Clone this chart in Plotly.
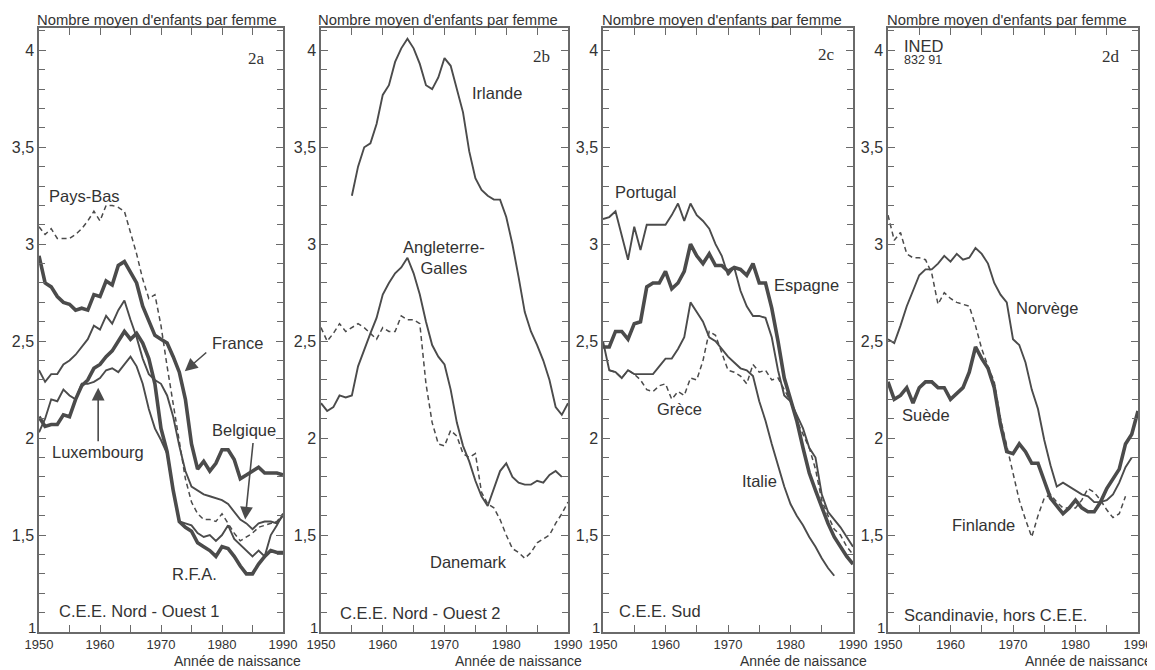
import plotly.graph_objects as go

# ---------------- data ----------------
years_50_90 = list(range(1950, 1991))

# Panel 2a : C.E.E. Nord - Ouest 1
pays_bas = [3.09, 3.05, 3.08, 3.03, 3.03, 3.03, 3.05, 3.08, 3.12, 3.17,
            3.12, 3.20, 3.20, 3.19, 3.17, 3.06, 2.95, 2.82, 2.72, 2.74,
            2.58, 2.37, 2.17, 1.97, 1.79, 1.67, 1.61, 1.58, 1.58, 1.57,
            1.61, 1.56, 1.51, 1.47, 1.49, 1.51, 1.54, 1.55, 1.56, 1.57, 1.61]
france = [2.94, 2.80, 2.78, 2.73, 2.70, 2.69, 2.66, 2.67, 2.66, 2.74,
          2.73, 2.81, 2.79, 2.89, 2.91, 2.85, 2.80, 2.68, 2.60, 2.53,
          2.51, 2.49, 2.42, 2.34, 2.20, 1.97, 1.84, 1.88, 1.83, 1.87,
          1.94, 1.94, 1.89, 1.79, 1.81, 1.83, 1.85, 1.82, 1.82, 1.82, 1.81]
belgique = [2.35, 2.29, 2.33, 2.33, 2.38, 2.40, 2.43, 2.47, 2.51, 2.58,
            2.56, 2.63, 2.59, 2.66, 2.71, 2.61, 2.52, 2.41, 2.33, 2.30,
            2.28, 2.22, 2.11, 1.96, 1.83, 1.75, 1.73, 1.71, 1.70, 1.69,
            1.68, 1.66, 1.62, 1.58, 1.56, 1.53, 1.56, 1.57, 1.57, 1.56, 1.60]
luxembourg = [2.03, 2.10, 2.20, 2.19, 2.25, 2.22, 2.20, 2.28, 2.28, 2.29,
              2.31, 2.35, 2.36, 2.34, 2.38, 2.42, 2.37, 2.28, 2.15, 2.05,
              1.99, 1.92, 1.73, 1.57, 1.56, 1.55, 1.51, 1.49, 1.50, 1.47,
              1.50, 1.55, 1.48, 1.45, 1.42, 1.39, 1.42, 1.39, 1.50, 1.55, 1.61]
rfa = [2.11, 2.06, 2.07, 2.07, 2.12, 2.11, 2.20, 2.27, 2.30, 2.36,
       2.38, 2.42, 2.45, 2.50, 2.55, 2.51, 2.54, 2.49, 2.41, 2.28,
       2.05, 1.93, 1.73, 1.57, 1.54, 1.52, 1.46, 1.44, 1.42, 1.39,
       1.44, 1.43, 1.39, 1.34, 1.30, 1.30, 1.35, 1.39, 1.42, 1.41, 1.41]

# Panel 2b : C.E.E. Nord - Ouest 2
years_irl = list(range(1955, 1991))
irlande = [3.25, 3.40, 3.50, 3.52, 3.62, 3.77, 3.82, 3.94, 4.01, 4.06,
           4.01, 3.93, 3.82, 3.80, 3.86, 3.96, 3.92, 3.80, 3.68, 3.48,
           3.34, 3.28, 3.25, 3.23, 3.23, 3.14, 3.00, 2.83, 2.65, 2.55,
           2.48, 2.40, 2.30, 2.16, 2.12, 2.18]
years_ang = list(range(1950, 1990))
angleterre = [2.18, 2.14, 2.16, 2.22, 2.21, 2.22, 2.37, 2.46, 2.54, 2.62,
              2.74, 2.80, 2.85, 2.88, 2.93, 2.85, 2.74, 2.60, 2.48, 2.42,
              2.38, 2.25, 2.08, 1.96, 1.88, 1.78, 1.70, 1.65, 1.74, 1.83,
              1.87, 1.80, 1.77, 1.76, 1.76, 1.78, 1.77, 1.81, 1.83, 1.80]
danemark = [2.57, 2.50, 2.54, 2.59, 2.55, 2.57, 2.59, 2.57, 2.54, 2.51,
            2.57, 2.55, 2.55, 2.63, 2.61, 2.61, 2.59, 2.28, 2.08, 1.97,
            1.96, 2.04, 2.01, 1.92, 1.90, 1.92, 1.72, 1.66, 1.64, 1.58,
            1.50, 1.43, 1.41, 1.38, 1.41, 1.46, 1.48, 1.50, 1.56, 1.61, 1.67]

# Panel 2c : C.E.E. Sud
portugal = [3.13, 3.14, 3.17, 3.05, 2.92, 3.09, 2.97, 3.10, 3.10, 3.10,
            3.10, 3.15, 3.21, 3.12, 3.21, 3.15, 3.12, 3.08, 3.00, 2.94,
            2.84, 2.88, 2.76, 2.68, 2.63, 2.63, 2.62, 2.52, 2.35, 2.22,
            2.19, 2.12, 2.05, 1.95, 1.90, 1.71, 1.62, 1.58, 1.54, 1.49, 1.44]
espagne = [2.47, 2.47, 2.55, 2.55, 2.51, 2.59, 2.60, 2.78, 2.80, 2.80,
           2.86, 2.77, 2.80, 2.86, 3.00, 2.94, 2.90, 2.95, 2.89, 2.89,
           2.86, 2.88, 2.87, 2.84, 2.90, 2.80, 2.80, 2.67, 2.50, 2.31,
           2.20, 2.09, 1.95, 1.82, 1.73, 1.64, 1.56, 1.49, 1.44, 1.39, 1.35]
years_gre = list(range(1951, 1991))
grece = [2.35, 2.34, 2.31, 2.35, 2.33, 2.30, 2.25, 2.24, 2.27, 2.28,
         2.20, 2.24, 2.22, 2.31, 2.30, 2.40, 2.55, 2.53, 2.44, 2.35,
         2.34, 2.32, 2.28, 2.38, 2.34, 2.35, 2.30, 2.31, 2.25, 2.19,
         2.09, 2.02, 1.95, 1.84, 1.68, 1.60, 1.53, 1.50, 1.44, 1.40]
years_ita = list(range(1950, 1988))
italie = [2.50, 2.35, 2.34, 2.31, 2.35, 2.33, 2.33, 2.33, 2.33, 2.37,
          2.41, 2.41, 2.46, 2.52, 2.70, 2.65, 2.60, 2.52, 2.50, 2.46,
          2.42, 2.39, 2.36, 2.35, 2.32, 2.19, 2.09, 1.97, 1.86, 1.75,
          1.66, 1.60, 1.55, 1.49, 1.44, 1.38, 1.33, 1.29]

# Panel 2d : Scandinavie, hors C.E.E.
years_fin = list(range(1950, 1989))
finlande = [3.15, 3.02, 3.06, 2.95, 2.93, 2.93, 2.92, 2.85, 2.69, 2.75,
            2.72, 2.70, 2.69, 2.68, 2.58, 2.46, 2.37, 2.29, 2.10, 1.96,
            1.82, 1.68, 1.58, 1.49, 1.60, 1.69, 1.71, 1.67, 1.64, 1.64,
            1.64, 1.68, 1.74, 1.72, 1.68, 1.63, 1.59, 1.61, 1.70]
years_nor = list(range(1950, 1990))
norvege = [2.51, 2.49, 2.58, 2.68, 2.76, 2.84, 2.87, 2.87, 2.90, 2.94,
           2.91, 2.95, 2.92, 2.93, 2.98, 2.95, 2.90, 2.80, 2.74, 2.70,
           2.51, 2.48, 2.39, 2.25, 2.15, 1.99, 1.86, 1.75, 1.77, 1.75,
           1.73, 1.71, 1.70, 1.67, 1.67, 1.68, 1.71, 1.77, 1.85, 1.90]
suede = [2.29, 2.20, 2.22, 2.26, 2.18, 2.26, 2.29, 2.29, 2.26, 2.26,
         2.20, 2.23, 2.26, 2.34, 2.47, 2.41, 2.36, 2.26, 2.07, 1.93,
         1.92, 1.97, 1.93, 1.87, 1.87, 1.78, 1.69, 1.65, 1.61, 1.64,
         1.68, 1.64, 1.62, 1.62, 1.67, 1.74, 1.79, 1.84, 1.97, 2.02, 2.14]

x_tickvals = [1950, 1960, 1970, 1980, 1990]
x_minorvals = [1955, 1965, 1975, 1985]
# the bottom label "1" is written separately, slightly raised as in the original
y_tickvals = [1, 1.5, 2, 2.5, 3, 3.5, 4]
y_ticktext = ["", "1,5", "2", "2,5", "3", "3,5", "4"]
y_bottom_label = "1"

# ---------------- styling ----------------
W, H = 1155, 670
OFF = 8  # the page body margin shifts the figure by 8 px
LINE = "#4b4b4b"
TXT = "#333333"
AXC = "#6a6a6a"
SANS = "Liberation Sans, Arial, Helvetica, sans-serif"
SERIF = "Liberation Serif, Times New Roman, serif"
THICK, THIN, DASHW = 3.6, 1.9, 1.5
DASH = "5px,3.5px"


def px_x(p):
    return (p - OFF) / W


def px_y(p):
    return 1 - (p - OFF) / H


fig = go.Figure()


def add(x, y, ax, width, dash=None):
    fig.add_trace(go.Scatter(
        x=x, y=y, xaxis="x" + ax, yaxis="y" + ax, mode="lines",
        line=dict(color=LINE, width=width, dash=dash),
        showlegend=False, hoverinfo="skip"))


# 2a
add(years_50_90, pays_bas, "", DASHW, DASH)
add(years_50_90, belgique, "", THIN)
add(years_50_90, luxembourg, "", THIN)
add(years_50_90, france, "", THICK)
add(years_50_90, rfa, "", THICK)
# 2b
add(years_irl, irlande, "2", THIN)
add(years_ang, angleterre, "2", THIN)
add(years_50_90, danemark, "2", DASHW, DASH)
# 2c
add(years_50_90, portugal, "3", THIN)
add(years_gre, grece, "3", DASHW, DASH)
add(years_ita, italie, "3", THIN)
add(years_50_90, espagne, "3", THICK)
# 2d
add(years_fin, finlande, "4", DASHW, DASH)
add(years_nor, norvege, "4", THIN)
add(years_50_90, suede, "4", THICK)

left_px = [39, 321, 603, 888]
right_px = [283, 568, 853, 1138]
y_bottom_px, y_top_px = 632, 28

layout = dict(
    width=W, height=H, margin=dict(l=0, r=0, t=0, b=0),
    paper_bgcolor="white", plot_bgcolor="white",
    font=dict(family=SANS, color=TXT, size=14),
    showlegend=False, template="none",
)

suffixes = ["", "2", "3", "4"]
for i, s in enumerate(suffixes):
    layout["xaxis" + s] = dict(
        domain=[px_x(left_px[i]), px_x(right_px[i])], anchor="y" + s,
        range=[1950, 1990], tickvals=x_tickvals,
        ticks="inside", ticklen=7, tickwidth=1.2, tickcolor=AXC,
        minor=dict(tickvals=x_minorvals, ticks="inside", ticklen=7,
                   tickwidth=1.2, tickcolor=AXC),
        showline=True, linecolor=AXC, linewidth=1.5, mirror="ticks",
        showgrid=False, zeroline=False, automargin=False,
        tickfont=dict(size=13, color=TXT, family=SANS), fixedrange=True)
    layout["yaxis" + s] = dict(
        domain=[px_y(y_bottom_px), px_y(y_top_px)], anchor="x" + s,
        range=[1, 4.115], tickvals=y_tickvals, ticktext=y_ticktext,
        ticks="inside", ticklen=7, tickwidth=1.2, tickcolor=AXC,
        minor=dict(dtick=0.1, tick0=1, ticks="inside", ticklen=6,
                   tickwidth=1.2, tickcolor=AXC),
        showline=True, linecolor=AXC, linewidth=1.5, mirror="ticks",
        showgrid=False, zeroline=False, automargin=False,
        tickfont=dict(size=16, color=TXT, family=SANS), fixedrange=True)

ann = []


def label(ax, x, y, text, size=16.5, xanchor="left", family=SANS, align="left"):
    ann.append(dict(xref="x" + ax, yref="y" + ax, x=x, y=y, text=text,
                    showarrow=False, xanchor=xanchor, yanchor="middle",
                    align=align, font=dict(size=size, family=family, color=TXT)))


def arrow(ax, x, y, dx, dy):
    ann.append(dict(xref="x" + ax, yref="y" + ax, x=x, y=y, text="",
                    showarrow=True, ax=dx, ay=dy, arrowhead=2, arrowsize=1.6,
                    arrowwidth=1.6, arrowcolor=LINE))


# panel titles, axis titles and the raised "1" labels
title_x = [35, 316, 600, 885]
axis_title_right = [303, 584, 869, 1154]
for i in range(4):
    ann.append(dict(xref="paper", yref="paper", x=px_x(title_x[i]), y=px_y(20),
                    text="Nombre moyen d'enfants par femme", showarrow=False,
                    xanchor="left", yanchor="middle",
                    font=dict(size=14.8, family=SANS, color=TXT)))
    ann.append(dict(xref="paper", yref="paper", x=px_x(axis_title_right[i]),
                    y=px_y(661), text="Année de naissance", showarrow=False,
                    xanchor="right", yanchor="middle",
                    font=dict(size=14, family=SANS, color=TXT)))
    ann.append(dict(xref="paper", yref="paper", x=px_x(left_px[i] - 1),
                    y=px_y(627), text=y_bottom_label, showarrow=False,
                    xanchor="right", yanchor="middle",
                    font=dict(size=15, family=SANS, color=TXT)))

# 2a
label("", 1987.4, 3.96, "2a", 17, "right", SERIF)
label("", 1951.3, 3.25, "Pays-Bas")
label("", 1978.0, 2.49, "France")
label("", 1978.0, 2.04, "Belgique")
label("", 1951.8, 1.93, "Luxembourg")
label("", 1971.5, 1.30, "R.F.A.")
label("", 1953.0, 1.11, "C.E.E. Nord - Ouest 1")
arrow("", 1973.9, 2.345, 23, -20)
arrow("", 1983.8, 1.58, 8, -78)
arrow("", 1959.7, 2.26, 0, 55)
# 2b
label("2", 1987.4, 3.97, "2b", 17, "right", SERIF)
label("2", 1974.1, 3.78, "Irlande")
label("2", 1969.9, 2.93, "Angleterre-<br>Galles", xanchor="center", align="center")
label("2", 1967.3, 1.36, "Danemark")
label("2", 1952.8, 1.10, "C.E.E. Nord - Ouest 2")
# 2c
label("3", 1987.4, 3.98, "2c", 17, "right", SERIF)
label("3", 1951.6, 3.27, "Portugal")
label("3", 1977.1, 2.79, "Espagne")
label("3", 1958.3, 2.15, "Grèce")
label("3", 1971.9, 1.78, "Italie")
label("3", 1952.2, 1.11, "C.E.E. Sud")
# 2d
label("4", 1987.5, 3.97, "2d", 17, "right", SERIF)
label("4", 1952.2, 4.02, "INED", 16.5)
label("4", 1952.3, 3.95, "832 91", 12.5)
label("4", 1970.2, 2.67, "Norvège")
label("4", 1951.9, 2.12, "Suède")
label("4", 1959.9, 1.55, "Finlande")
label("4", 1952.2, 1.09, "Scandinavie, hors C.E.E.")

layout["annotations"] = ann
fig.update_layout(**layout)
fig.write_html("out.html")
